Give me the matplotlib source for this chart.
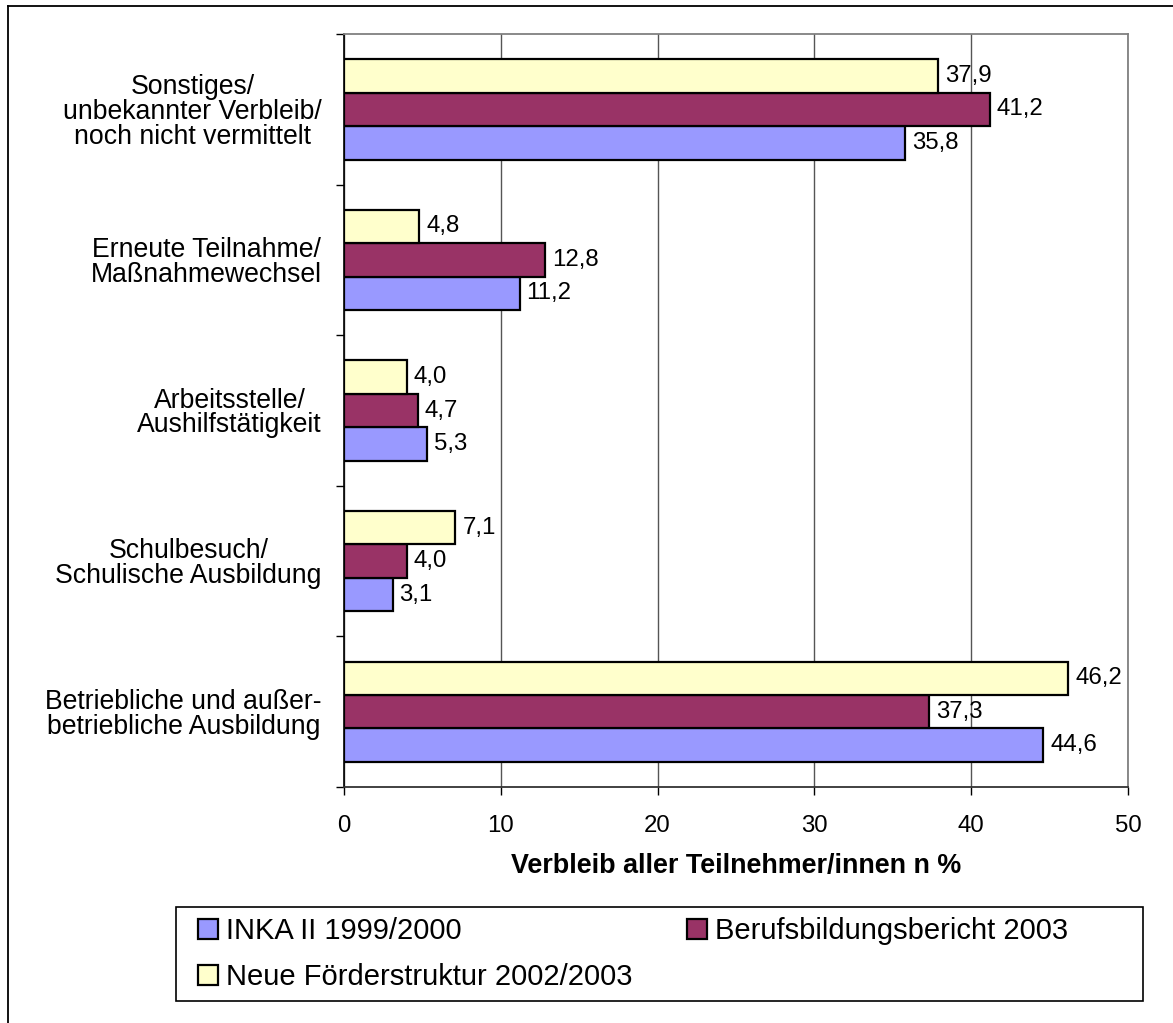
import matplotlib.pyplot as plt
from matplotlib.patches import Patch
from matplotlib.lines import Line2D

plt.rcParams['font.family'] = ['Liberation Sans', 'DejaVu Sans']

# categories from bottom to top
categories = [
    "Betriebliche und außer-\nbetriebliche Ausbildung",
    "Schulbesuch/\nSchulische Ausbildung",
    "Arbeitsstelle/\nAushilfstätigkeit",
    "Erneute Teilnahme/\nMaßnahmewechsel",
    "Sonstiges/\nunbekannter Verbleib/\nnoch nicht vermittelt",
]
inka = [44.6, 3.1, 5.3, 11.2, 35.8]
bbb = [37.3, 4.0, 4.7, 12.8, 41.2]
neue = [46.2, 7.1, 4.0, 4.8, 37.9]
series_names = ["INKA II 1999/2000", "Berufsbildungsbericht 2003", "Neue Förderstruktur 2002/2003"]
colors = ["#9999FF", "#993366", "#FFFFCC"]
x_ticks = [0, 10, 20, 30, 40, 50]

W, H = 1173, 1023
fig = plt.figure(figsize=(W / 100, H / 100), dpi=100)
ax = fig.add_axes([344 / W, 1 - 787 / H, (1128 - 344) / W, (787 - 34) / H])

h = 2 / 9  # bar height, groups fill 2/3 of each category
pos = list(range(len(categories)))
for k, (vals, col) in enumerate(zip([inka, bbb, neue], colors)):
    y = [p + (k - 1) * h for p in pos]
    bars = ax.barh(y, vals, height=h, color=col, edgecolor="black", linewidth=1.6, zorder=3)
    ax.bar_label(bars, labels=[f"{v:.1f}".replace(".", ",") for v in vals],
                 padding=5, fontsize=17.3, zorder=4)

ax.set_xlim(0, 50)
ax.set_ylim(-0.5, len(categories) - 0.5)
ax.set_xticks(x_ticks)
ax.set_xticklabels([str(t) for t in x_ticks], fontsize=17.3)
ax.tick_params(axis="x", direction="out", length=6, width=1, pad=14)

# boundaries as major ticks, names as minor ticks
ax.set_yticks([p - 0.5 for p in range(len(categories) + 1)])
ax.set_yticklabels([])
ax.set_yticks(pos, categories, minor=True, fontsize=19.2, ma="center", linespacing=0.95)
ax.tick_params(axis="y", which="major", direction="out", length=6, width=1)
ax.tick_params(axis="y", which="minor", length=0, pad=16)

ax.grid(axis="x", color="#555555", linewidth=1, zorder=0)
ax.set_axisbelow(True)
for s in ["top", "right"]:
    ax.spines[s].set_color("#808080")
    ax.spines[s].set_linewidth(1.3)
ax.spines["left"].set_color("black")
ax.spines["bottom"].set_color("#333333")
ax.spines["left"].set_linewidth(1.2)
ax.spines["bottom"].set_linewidth(1.3)

ax.set_xlabel("Verbleib aller Teilnehmer/innen n %", fontsize=19.4, fontweight="bold", labelpad=12)

# legend box drawn separately, entries placed inside
box = plt.Rectangle((176 / W, 1 - 1001 / H), (1143 - 176) / W, (1001 - 907) / H,
                    transform=fig.transFigure, facecolor="white", edgecolor="black", linewidth=1.2)
fig.patches.append(box)
handles = [Patch(facecolor=c, edgecolor="black", linewidth=1.6) for c in colors]
order = [0, 2, 1]
leg = fig.legend([handles[i] for i in order], [series_names[i] for i in order],
                 ncol=2, loc="center left", bbox_to_anchor=(198 / W, 1 - 954 / H),
                 frameon=False, fontsize=21, handlelength=0.7, handleheight=0.7,
                 handletextpad=0.25, columnspacing=1.88, labelspacing=0.62, borderpad=0,
                 borderaxespad=0)

# outer chart border (only left and top visible)
fig.add_artist(Line2D([8 / W, 8 / W], [0, 1 - 6 / H], transform=fig.transFigure, color="black", linewidth=1.3))
fig.add_artist(Line2D([8 / W, 1], [1 - 6 / H, 1 - 6 / H], transform=fig.transFigure, color="black", linewidth=1.3))

fig.savefig("out.png", dpi=100)
